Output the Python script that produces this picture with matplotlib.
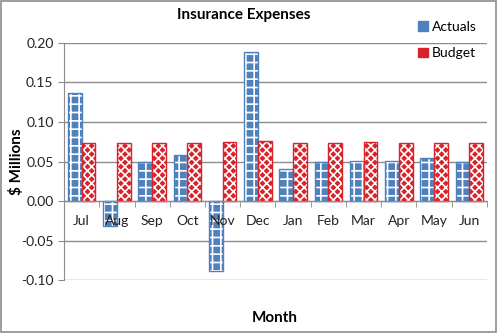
import matplotlib
matplotlib.use("Agg")
import matplotlib.pyplot as plt
import numpy as np
from matplotlib.patches import Patch

months = ["Jul", "Aug", "Sep", "Oct", "Nov", "Dec", "Jan", "Feb", "Mar", "Apr", "May", "Jun"]
actuals = [0.137, -0.032, 0.050, 0.058, -0.089, 0.189, 0.040, 0.050, 0.051, 0.051, 0.055, 0.050]
budget = [0.073, 0.073, 0.073, 0.073, 0.075, 0.076, 0.074, 0.073, 0.075, 0.073, 0.073, 0.074]
yticks = [-0.10, -0.05, 0.00, 0.05, 0.10, 0.15, 0.20]

plt.rcParams['font.family'] = ['Lato', 'DejaVu Sans']
plt.rcParams['hatch.linewidth'] = 1.2

blue = '#4F81BD'
red = '#D9232A'
grey = '#8c8c8c'

fig = plt.figure(figsize=(4.97, 3.33), dpi=100)
fig.patches.append(plt.Rectangle((0.002, 0.003), 0.996, 0.994, transform=fig.transFigure,
                                 fill=False, edgecolor=grey, linewidth=1.2))
ax = fig.add_axes([0.1288, 0.159, 0.851, 0.712])

for v in yticks:
    ax.axhline(v, color=grey, linewidth=1.0, zorder=0.5)

x = np.arange(len(months))
w = 0.39
ax.bar(x - w/2, actuals, w, color=blue, edgecolor='white', hatch='++', linewidth=0, zorder=1)
ax.bar(x - w/2, actuals, w, fill=False, edgecolor=blue, linewidth=1.0, zorder=1.1)
ax.bar(x + w/2, budget, w, color=red, edgecolor='white', hatch='xxxx', linewidth=0, zorder=1)
ax.bar(x + w/2, budget, w, fill=False, edgecolor=red, linewidth=1.0, zorder=1.1)

ax.set_xlim(-0.5, len(months) - 0.5)
ax.set_ylim(-0.10, 0.20)
ax.set_yticks(yticks)
ax.set_yticklabels([f"{v:.2f}" for v in yticks], fontsize=10, color='#222222')

for s in ['top', 'right']:
    ax.spines[s].set_visible(False)
ax.spines['left'].set_color(grey)
ax.spines['bottom'].set_position(('data', 0))
ax.spines['bottom'].set_color(grey)

ax.set_xticks(np.arange(len(months) + 1) - 0.5, minor=True)
ax.set_xticks(x)
ax.set_xticklabels(months, fontsize=10, color='#222222')
ax.tick_params(axis='x', which='major', length=0, pad=10)
ax.tick_params(axis='x', which='minor', length=4, color=grey, direction='out')
ax.tick_params(axis='y', length=4, color=grey)

fig.text(0.491, (333 - 15.5) / 333, "Insurance Expenses", fontsize=11, fontweight='bold',
         ha='center', va='center')
ax.set_ylabel("$ Millions", fontsize=11, fontweight='bold')
ax.yaxis.set_label_coords(-0.094, 0.5)
fig.text(0.553, (333 - 318) / 333, "Month", fontsize=11, fontweight='bold', ha='center', va='center')

handles = [Patch(facecolor=blue, edgecolor=blue, hatch='++', label='Actuals'),
           Patch(facecolor=red, edgecolor=red, hatch='xxxx', label='Budget')]
fig.legend(handles=handles, loc='upper right', bbox_to_anchor=(0.985, 0.975), frameon=False,
           fontsize=10, handlelength=0.7, handleheight=0.7, handletextpad=0.3, labelspacing=1.05)

fig.savefig("out.png", dpi=100)
